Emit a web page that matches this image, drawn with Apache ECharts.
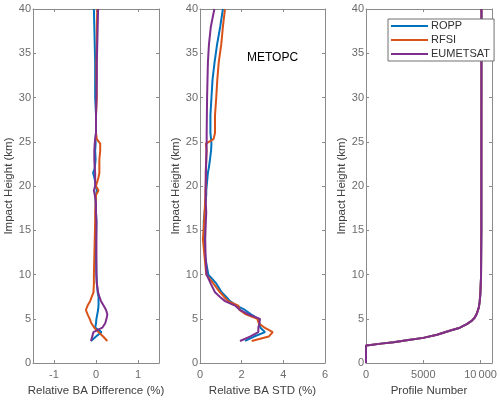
<!DOCTYPE html>
<html>
<head>
<meta charset="utf-8">
<script src="https://cdn.jsdelivr.net/npm/echarts@6/dist/echarts.min.js"></script>
<style>
  html, body { margin: 0; padding: 0; background: #fff; }
  #chart { width: 500px; height: 402px; }
</style>
</head>
<body>
<div id="chart"></div>
<script>
// 数据：高度层 (km)
const heights = [2.5, 3, 3.5, 4, 4.5, 5, 5.5, 6, 6.5, 7, 7.5, 8, 9, 10, 12, 14, 16, 17, 18, 19, 19.5,
  20, 21, 21.5, 22, 23, 24, 24.8, 25.3, 26, 28, 30, 32, 34, 36, 38, 40];

// 相对 BA 偏差 (%)
const roppDiff = [-0.12, 0.0, 0.13, -0.02, 0.0, 0.01, 0.03, 0.05, 0.06, 0.06, 0.06, 0.04, 0.02, 0.01, 0.0, 0.0, 0.01, 0.0, -0.01, 0.0, 0.02,
  0.0, -0.04, -0.07, -0.03, -0.01, -0.02, -0.01, -0.01, 0.0, 0.0, -0.02, -0.02, -0.02, -0.03, -0.04, -0.05];
const rfsiDiff = [0.27, 0.17, 0.06, -0.04, -0.11, -0.15, -0.2, -0.24, -0.2, -0.14, -0.1, -0.06, -0.05, -0.05, -0.04, -0.03, -0.02, -0.02, -0.01, 0.0, 0.06,
  0.0, 0.06, 0.08, 0.08, 0.08, 0.1, 0.1, 0.02, 0.0, 0.0, 0.02, 0.01, 0.01, 0.02, 0.02, 0.03];
const eumDiff = [-0.12, -0.09, -0.06, 0.15, 0.22, 0.25, 0.27, 0.24, 0.18, 0.12, 0.08, 0.05, 0.02, 0.01, 0.01, 0.01, 0.01, 0.0, 0.0, -0.03, -0.05,
  -0.02, -0.02, -0.02, -0.03, -0.04, -0.04, -0.03, -0.02, 0.0, 0.0, 0.01, 0.02, 0.02, 0.03, 0.04, 0.05];

// 相对 BA 标准差 (%)
const roppStd = [2.16, 2.6, 3.12, 2.9, 2.85, 2.8, 2.45, 2.16, 1.75, 1.44, 1.25, 1.04, 0.78, 0.4, 0.25, 0.19, 0.18, 0.22, 0.26, 0.3, 0.3,
  0.32, 0.36, 0.38, 0.42, 0.48, 0.53, 0.55, 0.53, 0.5, 0.5, 0.55, 0.6, 0.7, 0.82, 0.97, 1.1];
const rfsiStd = [2.48, 3.3, 3.49, 3.1, 2.82, 2.75, 2.2, 1.9, 1.84, 1.35, 1.15, 0.96, 0.64, 0.3, 0.22, 0.14, 0.2, 0.22, 0.24, 0.26, 0.26,
  0.28, 0.28, 0.28, 0.28, 0.3, 0.32, 0.28, 0.65, 0.72, 0.72, 0.78, 0.83, 0.9, 1.02, 1.1, 1.2];
const eumStd = [1.92, 2.4, 2.8, 2.8, 2.85, 2.88, 2.32, 1.92, 1.68, 1.2, 0.95, 0.72, 0.51, 0.32, 0.27, 0.25, 0.28, 0.3, 0.28, 0.27, 0.27,
  0.27, 0.28, 0.28, 0.29, 0.3, 0.31, 0.32, 0.32, 0.32, 0.33, 0.34, 0.36, 0.38, 0.43, 0.52, 0.69];

// 廓线数量
const profileHeights = [0, 2.0, 2.05, 2.2, 2.35, 2.6, 2.85, 3.2, 3.65, 4.0, 4.4, 4.8, 5.15, 5.6, 6.3, 7.0, 7.8, 9.6, 15, 40];
const profileCounts = [0, 0, 400, 1300, 2400, 3700, 5000, 6200, 7300, 8200, 8800, 9250, 9500, 9680, 9850, 9930, 9980, 10040, 10070, 10080];

const seriesNames = ['ROPP', 'RFSI', 'EUMETSAT'];

const colors = ['#0072BD', '#D95319', '#7E2F8E'];
const font = 'Liberation Sans, Arial, sans-serif';
const axisGray = '#8a8a8a';

const pairs = (xs, ys) => xs.map((x, i) => [x, ys[i]]);

function bottomAxis(gi, min, max, ticks, name, fmt) {
  return {
    type: 'value', gridIndex: gi, position: 'bottom', min: min, max: max,
    name: name, nameLocation: 'middle', nameGap: 19,
    nameTextStyle: { color: '#404040', fontSize: 11.5, fontFamily: font },
    axisLine: { onZero: false, lineStyle: { color: axisGray, width: 1 } },
    axisTick: { inside: true, length: 3, customValues: ticks, lineStyle: { color: axisGray } },
    axisLabel: { customValues: ticks, margin: 6, color: '#6b6b6b', fontSize: 11, fontFamily: font,
      formatter: fmt || (v => String(v)) },
    splitLine: { show: false }
  };
}
function topAxis(gi, min, max, ticks) {
  return {
    type: 'value', gridIndex: gi, position: 'top', min: min, max: max,
    axisLine: { onZero: false, lineStyle: { color: axisGray, width: 1 } },
    axisTick: { inside: true, length: 3, customValues: ticks, lineStyle: { color: axisGray } },
    axisLabel: { show: false },
    splitLine: { show: false }
  };
}
function leftAxis(gi) {
  return {
    type: 'value', gridIndex: gi, position: 'left', min: 0, max: 40, interval: 5,
    name: 'Impact Height (km)', nameLocation: 'middle', nameGap: 13,
    nameTextStyle: { color: '#404040', fontSize: 11.5, fontFamily: font },
    axisLine: { show: true, onZero: false, lineStyle: { color: axisGray, width: 1 } },
    axisTick: { show: true, inside: true, length: 3, lineStyle: { color: axisGray } },
    axisLabel: { margin: 2, color: '#6b6b6b', fontSize: 11, fontFamily: font },
    splitLine: { show: false }
  };
}
function rightAxis(gi) {
  return {
    type: 'value', gridIndex: gi, position: 'right', min: 0, max: 40, interval: 5,
    axisLine: { show: true, onZero: false, lineStyle: { color: axisGray, width: 1 } },
    axisTick: { show: true, inside: true, length: 3, lineStyle: { color: axisGray } },
    axisLabel: { show: false },
    splitLine: { show: false }
  };
}

function lineSeries(name, data, gi, idx) {
  return {
    name: name, type: 'line', xAxisIndex: gi * 2, yAxisIndex: gi * 2,
    data: data, showSymbol: false, symbol: 'none', animation: false,
    lineStyle: { color: colors[idx], width: 2 }, itemStyle: { color: colors[idx] }
  };
}

const chart = echarts.init(document.getElementById('chart'));

chart.setOption({
  backgroundColor: '#fff',
  title: {
    text: 'METOPC', left: 242, top: 47,
    textStyle: { color: '#000', fontSize: 12, fontWeight: 'normal', fontFamily: font }
  },
  legend: {
    data: seriesNames, orient: 'vertical', left: 388, top: 19,
    icon: 'rect', itemWidth: 37, itemHeight: 2, itemGap: 2,
    padding: [1, 4, 1, 3], borderColor: '#707070', borderWidth: 1, backgroundColor: '#fff',
    textStyle: { color: '#303030', fontSize: 11, fontFamily: font, lineHeight: 12, padding: [0, 0, 0, -2] }
  },
  grid: [
    { left: 33, top: 9, width: 126, height: 357 },
    { left: 200, top: 9, width: 125, height: 357 },
    { left: 366, top: 9, width: 126, height: 357 }
  ],
  xAxis: [
    bottomAxis(0, -1.5, 1.5, [-1, 0, 1], 'Relative BA Difference (%)'),
    topAxis(0, -1.5, 1.5, [-1, 0, 1]),
    bottomAxis(1, 0, 6, [0, 2, 4, 6], 'Relative BA STD (%)'),
    topAxis(1, 0, 6, [0, 2, 4, 6]),
    bottomAxis(2, 0, 11000, [0, 5000, 10000], 'Profile Number',
      v => v >= 10000 ? String(v).replace(/\B(?=(\d{3})+(?!\d))/g, '\u2009') : String(v)),
    topAxis(2, 0, 11000, [0, 5000, 10000])
  ],
  yAxis: [
    leftAxis(0), rightAxis(0),
    leftAxis(1), rightAxis(1),
    leftAxis(2), rightAxis(2)
  ],
  series: [
    lineSeries('ROPP', pairs(roppDiff, heights), 0, 0),
    lineSeries('RFSI', pairs(rfsiDiff, heights), 0, 1),
    lineSeries('EUMETSAT', pairs(eumDiff, heights), 0, 2),
    lineSeries('ROPP', pairs(roppStd, heights), 1, 0),
    lineSeries('RFSI', pairs(rfsiStd, heights), 1, 1),
    lineSeries('EUMETSAT', pairs(eumStd, heights), 1, 2),
    lineSeries('ROPP', pairs(profileCounts, profileHeights), 2, 0),
    lineSeries('RFSI', pairs(profileCounts, profileHeights), 2, 1),
    lineSeries('EUMETSAT', pairs(profileCounts, profileHeights), 2, 2)
  ]
});

window.addEventListener('resize', () => chart.resize());
</script>
</body>
</html>
